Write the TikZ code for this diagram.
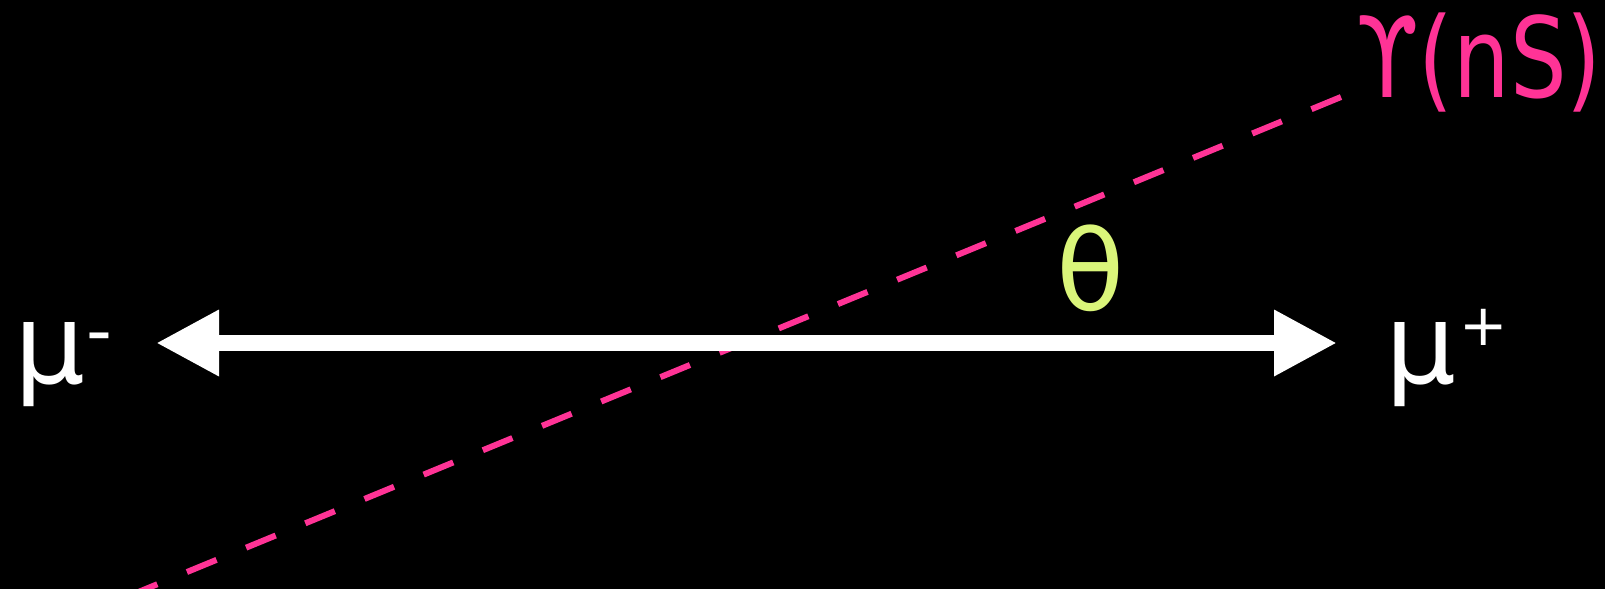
\documentclass[tikz,border=0pt]{standalone}
\usepackage{fontspec}
\usepackage{graphicx}
\setmainfont{DejaVu Sans}
\usetikzlibrary{arrows.meta}
\definecolor{upspink}{RGB}{255,51,150}
\definecolor{thetagreen}{RGB}{218,245,122}
\newcommand\supsign[3]{\raisebox{#1}{\fontsize{#2}{#2}\selectfont #3}}
\begin{document}
\begin{tikzpicture}[x=1bp,y=-1bp,
  bigtext/.style={inner sep=0pt, font=\fontsize{112}{112}\selectfont},
  muarrow/.style={white, line width=16bp,
    {Triangle[length=63bp,width=62bp]}-{Triangle[length=63bp,width=62bp]}}]
\fill[black] (0,0) rectangle (1605,589);
\useasboundingbox (0,0) rectangle (1605,589);
\coordinate (mleft) at (156,343);
\coordinate (mright) at (1337,343);
\coordinate (ytop) at (1341,97);
\coordinate (ybot) at (119,600);
% dashed line of the Upsilon
\draw[upspink, line width=6bp, dash pattern=on 32bp off 32bp] (ytop) -- (ybot);
\draw[muarrow] (mleft) -- (mright);
\node[bigtext, white, anchor=base west] (muminus) at (14,383) {μ\kern1bp\supsign{28bp}{72}{-}};
\node[bigtext, white, anchor=base west] (muplus) at (1385,383) {μ\kern3bp\supsign{38bp}{58}{+}};
\node[bigtext, upspink, anchor=base west] (upsilon) at (1356,98) {\scalebox{0.8}[1]{ϒ(nS)}};
\node[bigtext, thetagreen, anchor=base west] (theta) at (1056,310) {θ};
\end{tikzpicture}
\end{document}
